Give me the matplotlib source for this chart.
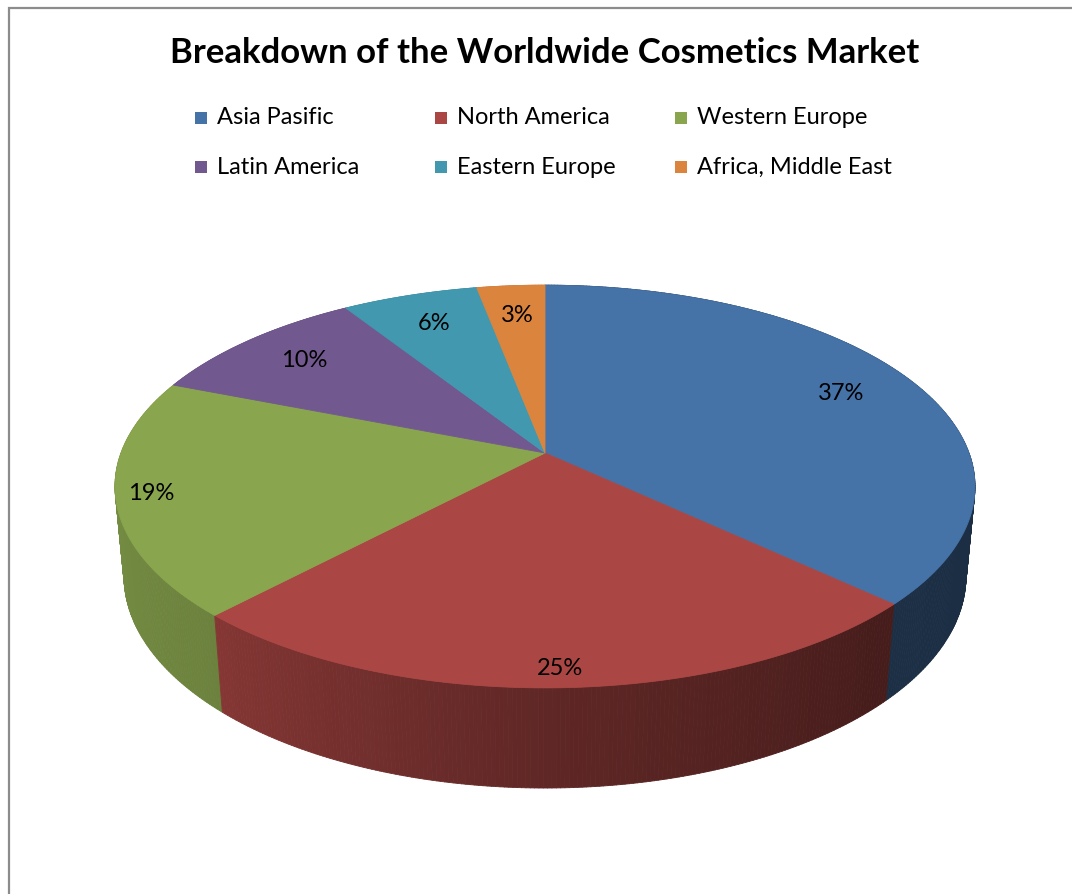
import numpy as np
import matplotlib
matplotlib.use("Agg")
import matplotlib.pyplot as plt
from matplotlib.patches import Polygon, Rectangle
from matplotlib.collections import PolyCollection
from matplotlib.colors import to_rgb

plt.rcParams['font.family'] = ['Lato', 'DejaVu Sans']

# market share by region (%)
regions = ['Asia Pasific', 'North America', 'Western Europe',
           'Latin America', 'Eastern Europe', 'Africa, Middle East']
shares = [37, 25, 19, 10, 6, 3]
colors = ['#4572A7', '#AA4643', '#89A54E', '#71588F', '#4198AF', '#DB843D']
title = 'Breakdown of the Worldwide Cosmetics Market'

# label distance from the centre, as a fraction of the radius
label_r = [0.8, 0.93, 0.92, 0.8, 0.8, 0.8]

W, H = 1072, 894
fig = plt.figure(figsize=(W / 100, H / 100), dpi=100)
ax = fig.add_axes([0, 0, 1, 1])
ax.set_xlim(0, W)
ax.set_ylim(H, 0)
ax.axis('off')

# 3d pie geometry (pixels), perspective camera tilted down
R = 424.0
depth = 102.0
elev = np.radians(27.5)
focal = 2260.0
cx, cy = 545.0, 453.0


def project(theta, z, r=R):
    t = np.radians(theta)
    X = r * np.sin(t)
    Y = r * np.cos(t)
    yv = Y * np.sin(elev) + z * np.cos(elev)
    d = Y * np.cos(elev) - z * np.sin(elev)
    s = focal / (focal + d)
    return cx + s * X, cy - s * yv


# side shading: lighter on the left, dark on the right
def shade(theta):
    th = theta % 360
    return np.interp(th, [0, 90, 135, 180, 225, 270, 360],
                     [0.4, 0.4, 0.41, 0.56, 0.79, 0.87, 0.87])


fracs = np.array(shares) / sum(shares) * 360.0
starts = np.concatenate([[0], np.cumsum(fracs)[:-1]])

# side walls, drawn back to front
quads, qcols, qdepth = [], [], []
for a0, da, c in zip(starts, fracs, colors):
    n = max(int(da / 0.5), 2)
    ts = np.linspace(a0, a0 + da, n + 1)
    base = np.array(to_rgb(c))
    for t1, t2 in zip(ts[:-1], ts[1:]):
        x1, y1 = project(t1, 0)
        x2, y2 = project(t2, 0)
        x3, y3 = project(t2, -depth)
        x4, y4 = project(t1, -depth)
        quads.append([(x1, y1), (x2, y2), (x3, y3), (x4, y4)])
        tm = (t1 + t2) / 2
        qcols.append(tuple(base * shade(tm)))
        qdepth.append(np.cos(np.radians(tm)))
order = np.argsort(qdepth)[::-1]
walls = PolyCollection([quads[i] for i in order],
                       facecolors=[qcols[i] for i in order],
                       edgecolors=[qcols[i] for i in order], linewidths=0.6)
ax.add_collection(walls)

# top faces
for a0, da, c in zip(starts, fracs, colors):
    ts = np.linspace(a0, a0 + da, max(int(da), 2) * 2)
    xs, ys = project(ts, 0)
    pts = [(cx, cy)] + list(zip(xs, ys))
    ax.add_patch(Polygon(pts, closed=True, facecolor=c, edgecolor=c, lw=0.6))

# percentage labels
for a0, da, v, k in zip(starts, fracs, shares, label_r):
    lx, ly = project(a0 + da / 2, 0, r=k * R)
    ax.text(lx, ly, f'{v}%', ha='center', va='center', fontsize=17, color='black')

# title and legend
ax.text(545, 53, title, ha='center', va='center', fontsize=25, fontweight='bold')
for i, (name, c) in enumerate(zip(regions, colors)):
    lx = 195 + (i % 3) * 240
    ly = 118 + (i // 3) * 49
    ax.add_patch(Rectangle((lx, ly - 6), 12, 12, facecolor=c, edgecolor='none'))
    ax.text(lx + 22, ly, name, ha='left', va='center', fontsize=17)

# chart area border
ax.plot([9, 9, W], [H, 8, 8], color='#8c8c8c', lw=1.6, solid_joinstyle='miter')

fig.savefig('out.png', dpi=100)
